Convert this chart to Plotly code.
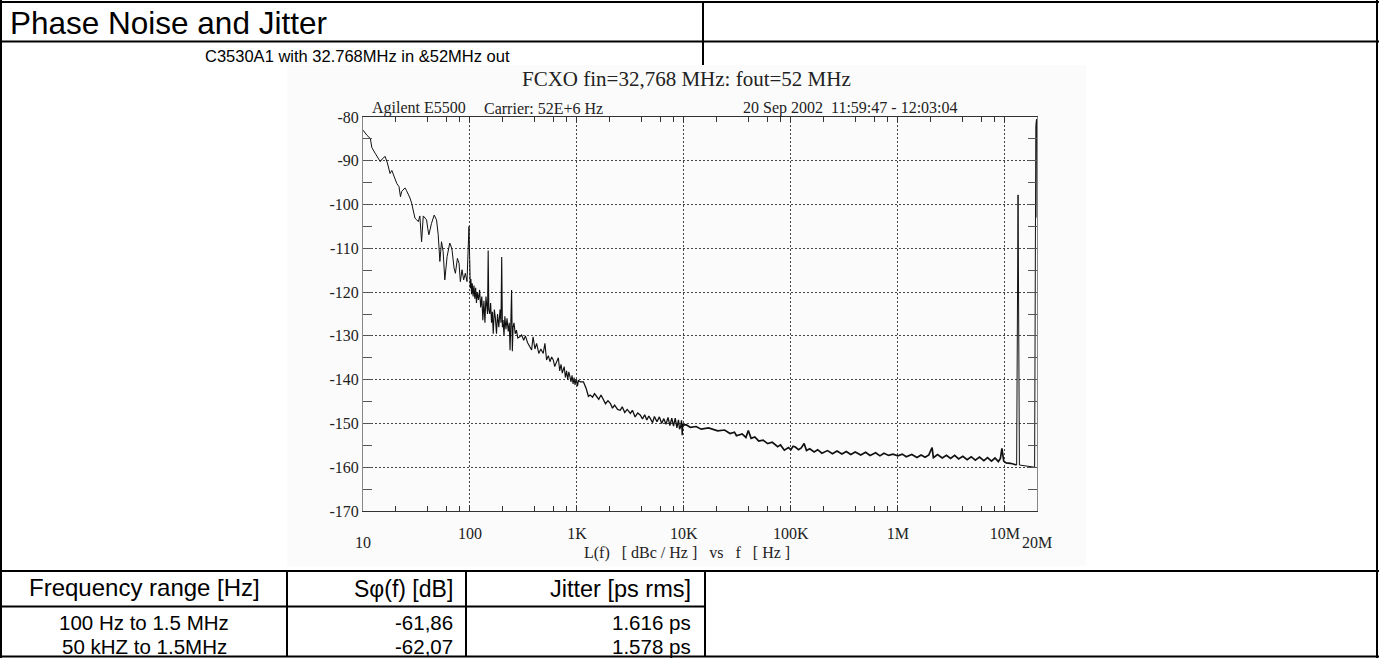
import numpy as np
import plotly.graph_objects as go

# ---------------- data ----------------
# phase noise L(f) in dBc/Hz vs offset frequency in Hz, per region
seg_10_100 = [
    (10, -83.0), (10.9, -84.2), (11.7, -84.9), (12.1, -87.0), (13.0, -88.3), (14.0, -89.5),
    (14.5, -90.2), (15.1, -89.6), (15.6, -89.3), (16.1, -89.0), (16.9, -90.5), (17.9, -92.9),
    (18.6, -92.2), (19.3, -93.3), (20.0, -94.0), (20.7, -95.2), (21.7, -95.9), (22.4, -98.2),
    (23.0, -97.0), (24.7, -96.2), (25.5, -96.8), (26.5, -97.5), (27.5, -98.5), (28.5, -99.7),
    (29.6, -101.5), (30.6, -103.1), (31.8, -103.5), (32.9, -103.9), (34.0, -102.6), (35.3, -108.5),
    (36.6, -102.6), (38.0, -103.0), (39.3, -103.5), (40.3, -105.5), (41.3, -106.9), (43.7, -104.3),
    (46.3, -102.4), (48.7, -103.5), (50.5, -106.9), (52.3, -113.0), (54.2, -108.5), (56.1, -110.7),
    (58.2, -117.2), (61.1, -111.9), (64.7, -108.8), (66.5, -109.5), (68.0, -110.4), (71.0, -114.5),
    (73.1, -115.7), (76.3, -112.3), (79.0, -113.4), (81.3, -117.6), (84.3, -114.9), (87.3, -117.2),
    (90.5, -115.7), (93.8, -117.6), (95.8, -113.0), (97.9, -105.0), (99.4, -112.6),
]
seg_100_1k = [
    (100.7, -119.1), (102, -117.0), (103.5, -120.5), (105, -118.0), (107, -121.0), (109, -118.5),
    (111, -121.5), (113, -119.0), (115, -122.5), (117, -120.0), (120, -121.8), (123, -119.5),
    (126, -123.5), (129, -121.0), (132, -126.4), (135, -122.0), (138, -127.0), (141, -121.0),
    (144, -123.0), (146, -125.0), (148, -110.5), (150, -124.0), (153, -125.0), (156, -122.5),
    (159, -127.0), (162, -124.5), (165, -129.5), (169, -124.0), (173, -126.0), (177, -129.5),
    (181, -125.0), (186, -128.0), (191, -124.0), (195, -127.0), (198, -112.0), (201, -128.0),
    (204, -126.4), (208, -130.0), (212, -125.5), (217, -128.5), (222, -126.0), (228, -129.0),
    (233, -127.0), (237, -133.3), (241, -127.0), (245, -119.5), (249, -133.5), (253, -128.0),
    (258, -127.0), (265, -129.5), (272, -128.7), (280, -130.5), (292, -130.2), (304, -129.8),
    (318, -131.0), (330, -130.0), (345, -131.5), (360, -132.5), (377, -133.2), (389, -130.2),
    (405, -133.0), (420, -131.7), (440, -134.0), (460, -133.0), (484, -134.0), (502, -131.7),
    (520, -135.5), (540, -134.5), (560, -135.9), (580, -134.8), (601, -135.5), (620, -137.0),
    (646, -136.0), (670, -135.0), (690, -138.0), (710, -136.5), (730, -138.5), (746, -137.2),
    (760, -137.0), (780, -139.5), (800, -138.0), (820, -140.0), (840, -138.2), (863, -139.5),
    (880, -140.5), (900, -139.0), (920, -141.0), (940, -139.5), (960, -141.2), (980, -140.0),
    (1000, -140.5),
]
seg_1k_10k = [
    (1010, -141.5), (1030, -140.2), (1080, -140.5), (1150, -140.5), (1220, -142.0), (1280, -143.8),
    (1330, -143.5), (1400, -144.0), (1460, -143.2), (1535, -143.9), (1600, -144.5), (1680, -143.5),
    (1775, -144.7), (1850, -145.5), (1950, -144.8), (2050, -145.4), (2150, -146.5), (2250, -145.8),
    (2400, -146.8), (2540, -147.0), (2650, -146.2), (2800, -147.5), (2950, -146.8), (3160, -147.7),
    (3300, -147.0), (3500, -148.5), (3700, -147.6), (3920, -148.1), (4100, -149.0), (4300, -148.0),
    (4500, -149.2), (4700, -148.3), (4860, -148.9), (5100, -149.8), (5300, -148.4), (5600, -149.6),
    (5900, -148.5), (6200, -150.0), (6490, -148.9), (6800, -150.2), (7100, -148.6), (7400, -150.5),
    (7700, -148.8), (8000, -150.6), (8300, -148.8), (8600, -151.0), (8900, -149.2), (9100, -151.3),
    (9310, -150.8), (9500, -149.3), (9640, -152.7), (9800, -150.0), (10000, -150.4),
]
seg_10k_13m = [
    (10500, -150.3), (11500, -150.9), (13000, -150.7), (14500, -151.3), (17000, -151.0),
    (20700, -151.7), (24000, -151.5), (27000, -152.3), (29700, -152.0), (31000, -152.8),
    (35000, -152.4), (38000, -153.2), (40000, -151.6), (42500, -153.4), (46000, -153.1),
    (50000, -154.0), (55000, -153.8), (60700, -154.6), (67000, -154.3), (75300, -155.3),
    (80000, -154.9), (86900, -156.1), (95000, -155.5), (100000, -156.0), (105000, -155.2),
    (110000, -155.4), (118000, -156.0), (125000, -155.6), (133000, -154.6), (140000, -156.2),
    (150000, -155.8), (165000, -156.5), (178000, -156.0), (195000, -156.8), (220000, -156.2),
    (245000, -156.9), (270000, -156.3), (300000, -157.0), (330000, -156.4), (363000, -157.1),
    (400000, -156.5), (450000, -157.2), (500000, -156.6), (550000, -157.3), (620000, -156.7),
    (680000, -157.4), (742000, -156.8), (820000, -157.3), (900000, -157.0), (1000000, -157.4),
    (1100000, -157.0), (1200000, -157.6), (1350000, -157.1), (1510000, -157.8), (1650000, -157.2),
    (1800000, -157.7), (1950000, -157.2), (2090000, -155.5), (2150000, -157.8), (2350000, -157.1),
    (2600000, -157.9), (2850000, -157.3), (3110000, -158.0), (3400000, -157.3), (3700000, -158.1),
    (4050000, -157.5), (4450000, -158.3), (4850000, -157.6), (5300000, -158.4), (5800000, -157.7),
    (6370000, -158.5), (6900000, -157.8), (7500000, -158.6), (8100000, -157.9), (8700000, -158.7),
    (9100000, -158.0), (9400000, -155.7), (9770000, -158.6), (10300000, -159.0), (11300000, -159.1),
    (12000000, -159.3), (12900000, -159.5),
]
seg_13m_20m = [
    (13300000, -97.8), (13700000, -159.5), (15000000, -159.6), (16500000, -159.7),
    (18000000, -159.9), (19000000, -160.0), (19500000, -82.0), (19800000, -80.5),
    (20000000, -103.0),
]

x_tick_vals = [100, 1e3, 1e4, 1e5, 1e6, 1e7]
x_tick_text = ["100", "1K", "10K", "100K", "1M", "10M"]
x_edge_labels = [(10, "10"), (2e7, "20M")]
y_tick_vals = [-170, -160, -150, -140, -130, -120, -110, -100, -90, -80]
y_tick_text = ["-170", "-160", "-150", "-140", "-130", "-120", "-110", "-100", "-90", "-80"]

table_header = ["Frequency range [Hz]", "S\u03c6(f) [dB]", "Jitter [ps rms]"]
table_ranges = ["100 Hz to 1.5 MHz", "50 kHZ to 1.5MHz"]
table_sphi = ["-61,86", "-62,07"]
table_jitter = ["1.616 ps", "1.578 ps"]

# ---------------- build ----------------
W, H = 1379, 658
ML, MR, MT, MB = 363, 342, 117, 147
PW, PH = W - ML - MR, H - MT - MB


def px(x):
    return (x - ML) / PW


def py(y):
    return (H - MB - y) / PH


SERIF = "Liberation Serif, Times New Roman, serif"
SANS = "Liberation Sans, Arial, sans-serif"

minor_x = [m * 10 ** d for d in range(1, 7) for m in (2, 4, 6, 8)]
minor_y = list(range(-165, -80, 10))

fig = go.Figure()
segments = [(seg_10_100, 1.0), (seg_100_1k, 1.1), (seg_1k_10k, 1.3),
            (seg_10k_13m, 1.7), (seg_13m_20m, 1.0)]
prev = None
for seg, lw in segments:
    pts = ([prev] if prev else []) + seg
    fig.add_trace(go.Scatter(x=[p[0] for p in pts], y=[p[1] for p in pts], mode="lines",
                             line=dict(color="#111111", width=lw), hoverinfo="skip"))
    prev = seg[-1]

fig.update_xaxes(
    type="log", range=[1, np.log10(2e7)],
    tickmode="array", tickvals=x_tick_vals, ticktext=x_tick_text,
    showgrid=True, gridcolor="#444444", griddash="2px,2px", gridwidth=1,
    showline=True, linecolor="#333333", linewidth=1, mirror="allticks",
    ticks="inside", ticklen=5, tickcolor="#333333",
    minor=dict(tickmode="array", tickvals=minor_x, ticks="inside", ticklen=5,
               tickcolor="#333333", showgrid=False),
    tickfont=dict(family=SERIF, size=16, color="#222222"),
    ticklabelstandoff=8, zeroline=False,
)
fig.update_yaxes(
    range=[-170, -80], tickmode="array", tickvals=y_tick_vals, ticktext=y_tick_text,
    showgrid=True, gridcolor="#444444", griddash="2px,2px", gridwidth=1,
    showline=True, linecolor="#888888", linewidth=1, mirror="allticks",
    ticks="inside", ticklen=9, tickcolor="#555555",
    minor=dict(tickmode="array", tickvals=minor_y, ticks="inside", ticklen=9,
               tickcolor="#555555", showgrid=False),
    tickfont=dict(family=SERIF, size=16, color="#222222"),
    zeroline=False,
)

shapes = []
# faint background of the embedded measurement picture
shapes.append(dict(type="rect", xref="paper", yref="paper", layer="below",
                   x0=px(287), x1=px(1086), y0=py(65), y1=py(566),
                   fillcolor="#fbfbfb", line=dict(width=0)))
# document table lines
doc_lines = [
    (0, 2, 1379, 2), (0, 41.5, 1379, 41.5), (0, 571, 1379, 571),
    (0, 606.5, 705, 606.5), (0, 656.5, 1379, 656.5),
    (1, 0, 1, 658), (1377, 0, 1377, 658), (703, 2, 703, 65),
    (287, 571, 287, 657), (466, 571, 466, 657), (705, 571, 705, 657),
]
for x0, y0, x1, y1 in doc_lines:
    shapes.append(dict(type="line", xref="paper", yref="paper", layer="above",
                       x0=px(x0), x1=px(x1), y0=py(y0), y1=py(y1),
                       line=dict(color="black", width=2)))

ann = []


def text(t, x, y, anchor, fam, size, color="#111111"):
    ann.append(dict(text=t, xref="paper", yref="paper", x=px(x), y=py(y),
                    xanchor=anchor, yanchor="middle", showarrow=False,
                    font=dict(family=fam, size=size, color=color)))


text("Phase Noise and Jitter", 8, 23, "left", SANS, 31.5, "black")
text("C3530A1 with 32.768MHz in &amp;52MHz out", 203, 56, "left", SANS, 16.5, "black")
text("FCXO fin=32,768 MHz: fout=52 MHz", 686, 79, "center", SERIF, 21, "#222222")
text("Agilent E5500", 370, 108, "left", SERIF, 16, "#222222")
text("Carrier: 52E+6 Hz", 482, 108, "left", SERIF, 16, "#222222")
text("20 Sep 2002&nbsp; 11:59:47 - 12:03:04", 741, 108, "left", SERIF, 16, "#222222")
for xv, lab in x_edge_labels:
    ann.append(dict(text=lab, xref="x", yref="paper", x=np.log10(xv), y=py(542),
                    xanchor="center", yanchor="middle", showarrow=False,
                    font=dict(family=SERIF, size=16, color="#222222")))
text("L(f)&nbsp;&nbsp; [ dBc / Hz ]&nbsp;&nbsp; vs&nbsp;&nbsp; f&nbsp;&nbsp; [ Hz ]", 686.5, 553,
     "center", SERIF, 16, "#222222")

text(table_header[0], 144, 587, "center", SANS, 24, "black")
text(table_header[1], 455, 589, "right", SANS, 23, "black")
text(table_header[2], 693, 589, "right", SANS, 23.5, "black")
for i, yy in enumerate([622, 646]):
    text(table_ranges[i], 144, yy, "center", SANS, 20.5, "black")
    text(table_sphi[i], 455, yy, "right", SANS, 20.5, "black")
    text(table_jitter[i], 693, yy, "right", SANS, 20.5, "black")

fig.update_layout(
    width=W, height=H, autosize=False,
    margin=dict(l=ML, r=MR, t=MT, b=MB, pad=0, autoexpand=False),
    paper_bgcolor="white", plot_bgcolor="rgba(0,0,0,0)",
    showlegend=False, shapes=shapes, annotations=ann,
)

fig.write_html("out.html", config={"displayModeBar": False, "staticPlot": True},
               post_script="document.body.style.margin='0';document.body.style.padding='0';")
